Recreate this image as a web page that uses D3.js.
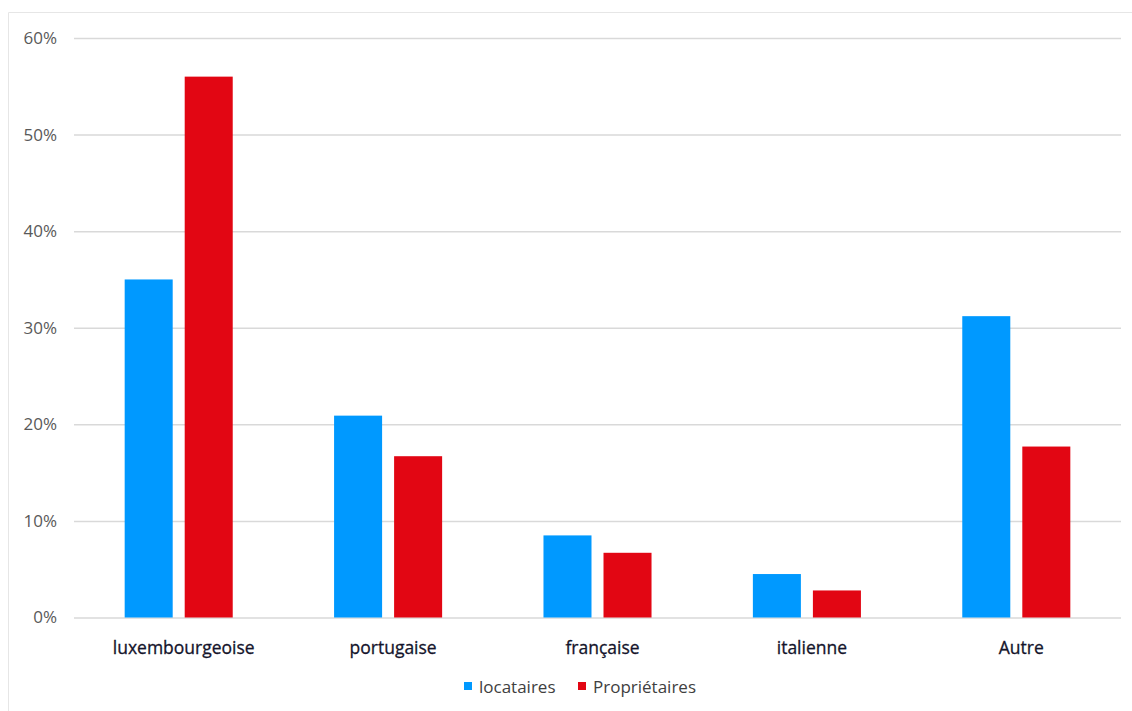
<!DOCTYPE html>
<html>
<head>
<meta charset="utf-8">
<script src="https://cdn.jsdelivr.net/npm/d3@7"></script>
<style>
  html, body { margin: 0; padding: 0; background: #ffffff; }
  svg { display: block; }
</style>
</head>
<body>
<script>
const categories = ["luxembourgeoise", "portugaise", "française", "italienne", "Autre"];
const seriesNames = ["locataires", "Propriétaires"];
const locataires = [35.0, 20.9, 8.5, 4.5, 31.2];
const proprietaires = [56.0, 16.7, 6.7, 2.8, 17.7];
const yTicks = [0, 10, 20, 30, 40, 50, 60];
const colors = ["#0099ff", "#e20613"];

const W = 1132, H = 711;
const svg = d3.select("body").append("svg").attr("width", W).attr("height", H);

// frame
svg.append("path")
  .attr("d", `M8.5,${H} V12.5 H${W}`)
  .attr("fill", "none").attr("stroke", "#e6e6e6").attr("stroke-width", 1);

const x0 = d3.scaleBand().domain(categories).range([74, 1121])
  .paddingInner(0.484).paddingOuter(0.242);
const x1 = d3.scaleBand().domain(seriesNames).range([0, x0.bandwidth()])
  .paddingInner(0.2).paddingOuter(0);
const y = d3.scaleLinear().domain([0, 60]).range([617.5, 38]);

const FONT = "'Open Sans', sans-serif";

// gridlines + y labels
const yAxis = d3.axisLeft(y).tickValues(yTicks).tickSize(-(1121 - 74)).tickFormat(d => d + "%");
const ga = svg.append("g").attr("transform", "translate(74,0)").call(yAxis);
ga.select(".domain").remove();
ga.selectAll(".tick line").attr("stroke", "#d9d9d9").attr("stroke-width", 1.5);
ga.selectAll(".tick text").attr("x", -17).attr("fill", "#595959")
  .attr("font-family", FONT).attr("font-size", "17px");

const data = categories.map((c, i) => ({ cat: c, vals: [locataires[i], proprietaires[i]] }));

const groups = svg.append("g").selectAll("g").data(data).join("g")
  .attr("transform", d => `translate(${x0(d.cat)},0)`);
groups.selectAll("rect").data(d => d.vals.map((v, j) => ({ s: seriesNames[j], v, j })))
  .join("rect")
  .attr("x", d => x1(d.s))
  .attr("width", x1.bandwidth())
  .attr("y", d => y(d.v))
  .attr("height", d => y(0) - y(d.v))
  .attr("fill", d => colors[d.j]);

// x axis labels
const xAxis = d3.axisBottom(x0).tickSize(0).tickPadding(0);
const gx = svg.append("g").attr("transform", "translate(5,617.5)").call(xAxis);
gx.select(".domain").remove();
gx.selectAll(".tick text").attr("y", 36).attr("dy", 0).attr("fill", "#14142b")
  .attr("font-family", FONT).attr("font-size", "17.5px")
  .attr("font-weight", 400).attr("stroke", "#14142b").attr("stroke-width", 0.3);

// legend
const legend = svg.append("g");
const legendItems = [{ name: seriesNames[0], x: 464 }, { name: seriesNames[1], x: 578 }];
legendItems.forEach((it, i) => {
  legend.append("rect").attr("x", it.x).attr("y", 682).attr("width", 8).attr("height", 8)
    .attr("fill", colors[i]);
  legend.append("text").attr("x", it.x + 15).attr("y", 692.5)
    .attr("fill", "#404040").attr("font-family", FONT)
    .attr("font-size", "17px").text(it.name);
});
</script>
</body>
</html>
